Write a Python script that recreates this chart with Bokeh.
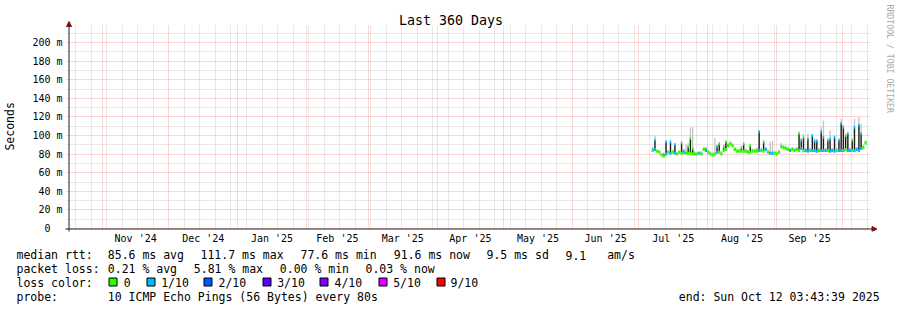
import math
import pandas as pd
from bokeh.plotting import figure
from bokeh.layouts import column
from bokeh.core.properties import value
from bokeh.models import (ColumnDataSource, Range1d, FixedTicker, Label, Arrow, NormalHead)
from bokeh.embed import file_html
from bokeh.resources import INLINE

# ---------------- data ----------------
end_time = pd.Timestamp("2025-10-12 03:43:39")
start_time = end_time - pd.Timedelta(days=360)
first_day = pd.Timestamp("2025-07-07 06:00")   # first day with data

median_ms = [84, 85, 83, 82, 79, 78, 80, 82, 81, 82,
             81, 80, 82, 81, 82, 81, 81, 81, 80, 80,
             80, 81, 80, 85, 84, 82, 80, 79, 80, 82,
             82, 80, 84, 85, 89, 91, 89, 85, 83, 83,
             83, 83, 83, 82, 82, 83, 83, 83, 84, 84,
             83, 85, 82, 81, 81, 81, 80, 82, 88, 87,
             86, 85, 84, 85, 84, 85, 84, 86, 84, 84,
             83, 84, 84, 84, 83, 84, 84, 84, 84, 84,
             83, 84, 83, 84, 84, 84, 84, 85, 84, 84,
             84, 84, 85, 84, 86, 87, 92]
peak_ms = [86, 95, 83, 82, 79, 80, 93, 82, 93, 83,
           90, 80, 82, 92, 84, 82, 88, 97, 86, 81,
           80, 81, 81, 86, 86, 83, 81, 80, 81, 88,
           91, 81, 88, 93, 90, 92, 90, 86, 84, 84,
           87, 91, 84, 83, 89, 84, 84, 85, 104, 85,
           93, 86, 83, 82, 82, 82, 81, 83, 89, 88,
           87, 86, 85, 86, 85, 86, 102, 95, 98, 85,
           96, 85, 100, 94, 94, 85, 104, 98, 85, 95,
           96, 85, 98, 85, 95, 113, 109, 100, 102, 85,
           95, 109, 86, 111, 102, 88, 93]
smoke_ms = [88, 100, 85, 84, 81, 82, 95, 84, 95, 85,
            92, 82, 84, 94, 86, 90, 92, 109, 109, 83,
            82, 83, 83, 88, 88, 85, 83, 82, 97, 90,
            93, 83, 90, 95, 92, 94, 92, 88, 86, 86,
            89, 93, 86, 85, 91, 86, 86, 87, 106, 87,
            95, 88, 85, 93, 94, 84, 83, 85, 92, 90,
            89, 88, 87, 88, 87, 88, 104, 97, 102, 87,
            102, 87, 102, 96, 96, 87, 109, 116, 87, 97,
            105, 87, 100, 87, 97, 118, 111, 102, 104, 87,
            97, 118, 88, 120, 113, 90, 95]
loss_idx = [0, 1, 0, 0, 0, 0, 1, 0, 1, 0,
            1, 0, 0, 0, 1, 0, 0, 0, 0, 0,
            0, 1, 0, 0, 1, 0, 0, 0, 0, 1,
            0, 0, 0, 0, 0, 0, 0, 0, 0, 0,
            0, 0, 0, 0, 0, 0, 0, 0, 1, 0,
            0, 1, 0, 1, 1, 0, 0, 0, 0, 0,
            0, 0, 1, 0, 0, 0, 0, 1, 0, 1,
            1, 0, 1, 1, 1, 0, 1, 1, 1, 0,
            1, 1, 1, 0, 1, 1, 1, 0, 1, 1,
            0, 1, 1, 1, 1, 0, 0]

loss_labels = ["0", "1/10", "2/10", "3/10", "4/10", "5/10", "9/10"]
loss_colors = ["#26ff00", "#00b8ff", "#0059ff", "#5e00ff", "#7e00ff", "#dd00ff", "#ff0000"]

y_ticks = [0, 20, 40, 60, 80, 100, 120, 140, 160, 180, 200]
y_minor = [10, 30, 50, 70, 90, 110, 130, 150, 170, 190, 210]
y_tick_labels = ["0\u00a0\u00a0", "20 m", "40 m", "60 m", "80 m", "100 m", "120 m",
                 "140 m", "160 m", "180 m", "200 m"]
month_labels = ["Nov '24", "Dec '24", "Jan '25", "Feb '25", "Mar '25", "Apr '25",
                "May '25", "Jun '25", "Jul '25", "Aug '25", "Sep '25"]

rtt_texts = ["median rtt:", "85.6 ms avg", "111.7 ms max", "77.6 ms min", "91.6 ms now",
             "9.5 ms sd", "9.1", "am/s"]
loss_texts = ["packet loss:", "0.21 % avg", "5.81 % max", "0.00 % min", "0.03 % now"]
probe_label = "probe:"
probe_text = "10 ICMP Echo Pings (56 Bytes) every 80s"
end_text = "end: Sun Oct 12 03:43:39 2025"
title_text = "Last 360 Days"
y_title = "Seconds"
watermark = "RRDTOOL / TOBI OETIKER"


def ms(ts):
    return float(ts.value // 10**6)


DAY = 86400000.0
MONO = "DejaVu Sans Mono"

# ---------------- geometry (canvas pixels) ----------------
PX0, PX1 = 67, 867          # plot area left / right (time axis)
PY0 = 228                   # zero line
PY_TOP = 25                 # top of plot area
PX_PER_MS = 0.93            # vertical scale, px per millisecond of rtt
FL, FB = 62, 231            # frame left / bottom of the main figure
W, H_MAIN = 897, 246

t0, t1 = ms(start_time), ms(end_time)
mpp = (t1 - t0) / (PX1 - PX0)          # time per pixel


def px2t(cx):
    return t0 + (cx - PX0) * mpp


def py2v(cy):
    return (PY0 - cy) / PX_PER_MS


xs = [ms(first_day + pd.Timedelta(days=k)) for k in range(len(median_ms))]
src = ColumnDataSource(dict(
    x=xs, median=median_ms, peak=peak_ms, smoke=smoke_ms,
    color=[loss_colors[i] for i in loss_idx],
))
cap_rows = [i for i in range(len(xs)) if peak_ms[i] - median_ms[i] >= 4]
cap_src = ColumnDataSource(dict(
    x=[xs[i] for i in cap_rows], y=[peak_ms[i] for i in cap_rows],
    color=[loss_colors[loss_idx[i]] for i in cap_rows],
))

month_starts = list(pd.date_range("2024-11-01", "2025-10-01", freq="MS"))
month_ms = [ms(t) for t in month_starts]
label_ms = [(month_ms[i] + month_ms[i + 1]) / 2.0 for i in range(len(month_ms) - 1)]
weeks = [t for t in pd.date_range(start_time.normalize(), end_time, freq="W-SUN")
         if start_time < t < end_time]
week_ms = [ms(t) for t in weeks if ms(t) not in month_ms]

# ---------------- main figure ----------------
p = figure(width=W, height=H_MAIN, output_backend="svg", toolbar_location=None,
           x_range=Range1d(px2t(FL), px2t(W)), y_range=Range1d(py2v(FB), py2v(0)),
           min_border_left=FL, min_border_right=0, min_border_top=0,
           min_border_bottom=H_MAIN - FB)
p.frame_align = False
p.outline_line_color = None
p.background_fill_color = "white"
p.border_fill_color = "white"

p.xgrid.ticker = FixedTicker(ticks=month_ms, minor_ticks=week_ms)
p.xgrid.cross_bounds = (0, py2v(PY_TOP))
p.ygrid.ticker = FixedTicker(ticks=y_ticks, minor_ticks=y_minor)
p.ygrid.cross_bounds = (px2t(PX0 - 3), px2t(PX1 + 2))
for g in (p.xgrid, p.ygrid):
    g.grid_line_color = "#ff0000"
    g.grid_line_alpha = 0.32
    g.grid_line_dash = "1 1"
    g.minor_grid_line_color = "#b0b0b0"
    g.minor_grid_line_alpha = 0.55
    g.minor_grid_line_dash = "1 1"

xa = p.xaxis[0]
xa.ticker = FixedTicker(ticks=label_ms)
xa.major_label_overrides = {t: lab for t, lab in zip(label_ms, month_labels)}
xa.axis_line_color = None
xa.major_tick_line_color = None
xa.minor_tick_line_color = None
xa.major_tick_out = 0
xa.minor_tick_out = 0
xa.major_label_standoff = 1
xa.major_label_text_font = MONO
xa.major_label_text_font_size = "10px"
xa.major_label_text_color = "black"

ya = p.yaxis[0]
ya.ticker = FixedTicker(ticks=y_ticks)
ya.major_label_overrides = {t: lab for t, lab in zip(y_ticks, y_tick_labels)}
ya.axis_line_color = None
ya.major_tick_line_color = None
ya.minor_tick_line_color = None
ya.major_tick_out = 0
ya.minor_tick_out = 0
ya.major_label_standoff = 2
ya.major_label_text_font = MONO
ya.major_label_text_font_size = "10px"
ya.major_label_text_color = "black"
ya.axis_label = y_title + "\u00a0\u00a0\u00a0"
ya.axis_label_text_font = MONO
ya.axis_label_text_font_size = "11.5px"
ya.axis_label_text_font_style = "normal"
ya.axis_label_text_color = "black"
ya.axis_label_standoff = 12

# smoke and median
p.vbar(x="x", bottom="median", top="smoke", width=0.6 * DAY, source=src,
       fill_color="#c4c4c4", line_color=None)
p.vbar(x="x", bottom="median", top="peak", width=0.6 * DAY, source=src,
       fill_color="#1c1c1c", line_color=None)
p.rect(x="x", y="median", width=DAY, height=3, height_units="screen", source=src,
       fill_color="color", line_color=None)
p.rect(x="x", y="y", width=0.6 * DAY, height=3, height_units="screen", source=cap_src,
       fill_color="color", line_color=None)

# axis lines with arrow heads
ARROW_C = "#7f1010"
p.add_layout(Arrow(x_start=63 - FL, y_start=FB - 228.5, x_end=874.5 - FL, y_end=FB - 228.5,
                   start_units="screen", end_units="screen", line_color="#222222",
                   line_width=1, end=NormalHead(size=5, fill_color=ARROW_C,
                                                line_color=ARROW_C, line_width=1)))
p.add_layout(Arrow(x_start=66.5 - FL, y_start=FB - 232, x_end=66.5 - FL, y_end=FB - 21,
                   start_units="screen", end_units="screen", line_color="#222222",
                   line_width=1, end=NormalHead(size=5, fill_color=ARROW_C,
                                                line_color=ARROW_C, line_width=1)))


def add_label(txt, cx, cy, size, align="left", baseline="alphabetic",
              color="black", angle=0.0):
    p.add_layout(Label(x=cx - FL, y=FB - cy, x_units="screen", y_units="screen",
                       text=txt, text_font=MONO, text_font_size=size,
                       text_align=align, text_baseline=baseline, text_color=color,
                       angle=angle))


add_label(title_text, 448.5, 20, "13.3px", align="center")
add_label(watermark, 887, 4, "8.2px", baseline="middle", color="#aaaaaa",
          angle=-math.pi / 2)

# ---------------- legend strip ----------------
H_LEG = 310 - H_MAIN
leg = figure(width=W, height=H_LEG, output_backend="svg", toolbar_location=None,
             x_range=Range1d(0, W), y_range=Range1d(310, H_MAIN),
             x_axis_location=None, y_axis_location=None,
             min_border_left=0, min_border_right=0, min_border_top=0, min_border_bottom=0)
leg.frame_align = False
leg.outline_line_color = None
leg.background_fill_color = "white"
leg.border_fill_color = "white"
leg.xgrid.visible = False
leg.ygrid.visible = False

ROW_Y = [254.8, 268.5, 282.3, 296.1]
tx, ty, tt = [], [], []
for t, x in zip(rtt_texts, [16, 107.3, 200, 300, 393.3, 486, 565, 606.7]):
    tx.append(x); ty.append(ROW_Y[0]); tt.append(t)
for t, x in zip(loss_texts, [16, 107.3, 193.3, 279.3, 365]):
    tx.append(x); ty.append(ROW_Y[1]); tt.append(t)
tx.append(16); ty.append(ROW_Y[2]); tt.append("loss color:")
for t, x in zip(loss_labels, [123.3, 160.7, 218, 276.7, 334, 392.7, 450]):
    tx.append(x); ty.append(ROW_Y[2]); tt.append(t)
for t, x in ((probe_label, 16), (probe_text, 107.3), (end_text, 678.3)):
    tx.append(x); ty.append(ROW_Y[3]); tt.append(t)
leg.text(x=tx, y=ty, text=tt, text_font=value(MONO), text_font_size=value("11.5px"),
         text_color="black", text_align="left", text_baseline="alphabetic")

sw_left = [108, 146, 203, 262, 319, 378, 436]
leg.quad(left=[s + 0.5 for s in sw_left], right=[s + 8.5 for s in sw_left],
         top=[277.5] * len(sw_left), bottom=[285.5] * len(sw_left),
         fill_color=loss_colors, line_color="black", line_width=1)

root = column(p, leg, spacing=0)
open("out.html", "w").write(file_html(root, INLINE))
